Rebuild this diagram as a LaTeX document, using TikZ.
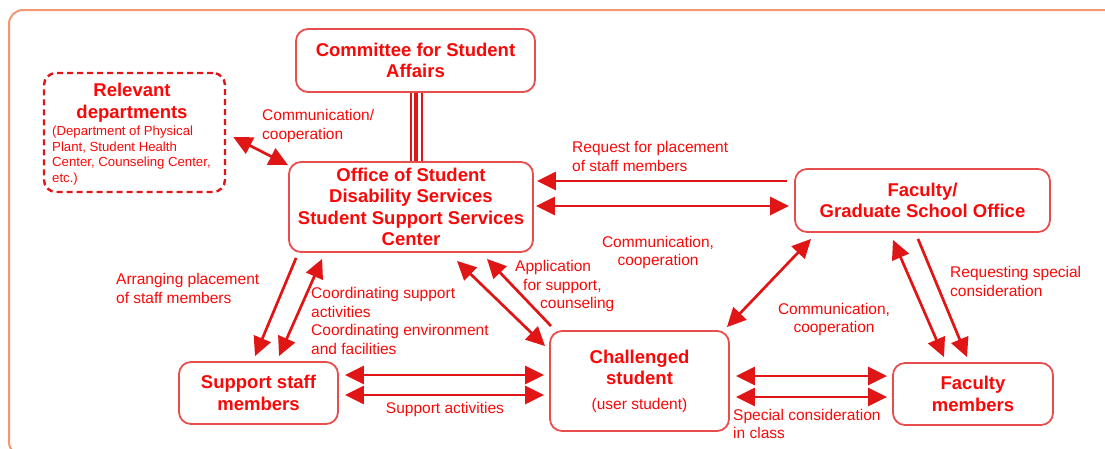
\documentclass[tikz,border=0pt]{standalone}
\usepackage{fontspec}
\setmainfont{Liberation Sans}
\usetikzlibrary{arrows.meta,calc}
\definecolor{txtred}{RGB}{250,8,8}
\definecolor{arrred}{RGB}{224,22,22}
\definecolor{boxred}{RGB}{232,78,78}
\definecolor{framec}{RGB}{242,152,112}
\begin{document}
\begin{tikzpicture}[x=1pt,y=-1pt,
  >={Triangle[length=19pt,width=18pt]},
  box/.style={draw=boxred, line width=1.8pt, rounded corners=12pt, fill=white,
    inner sep=0pt, align=center, text=txtred,
    font=\bfseries\fontsize{18.5}{21.5}\selectfont},
  dashbox/.style={draw=arrred, line width=2.4pt, dash pattern=on 6pt off 4pt,
    rounded corners=12pt, inner sep=0pt},
  title/.style={inner sep=0pt, align=center, text=txtred,
    font=\bfseries\fontsize{18.5}{21.5}\selectfont},
  lbl/.style={inner sep=0pt, text=txtred, font=\fontsize{15.5}{18.7}\selectfont},
  small/.style={inner sep=0pt, text=txtred, align=left, font=\fontsize{13.2}{15.7}\selectfont},
  conn/.style={draw=arrred, line width=2.7pt},
  triple/.style={draw=arrred, line width=2pt}]

\useasboundingbox (0,0) rectangle (1105,448);
\clip (0,0) rectangle (1105,448);

% outer frame
\draw[framec, line width=2pt, rounded corners=14pt] (9,10) rectangle (1125,456);

% boxes
\node[box, minimum width=239pt, minimum height=63pt] (comm) at (415.5,60.5)
  {Committee for Student\\Affairs};
\node[dashbox, minimum width=181pt, minimum height=119pt] (rel) at (134.5,132.5) {};
\node[title] (reltitle) at (132,102.5) {Relevant\\departments};
\node[small, anchor=west] (reldetail) at (52,155.5)
  {(Department of Physical\\Plant, Student Health\\Center, Counseling Center,\\etc.)};
\node[box, minimum width=244pt, minimum height=90pt] (off) at (411,207)
  {Office of Student\\Disability Services\\Student Support Services\\Center};
\node[box, minimum width=255pt, minimum height=63pt] (fac) at (922.5,200.5)
  {Faculty/\\Graduate School Office};
\node[box, minimum width=159pt, minimum height=62pt] (sup) at (258.5,393)
  {Support staff\\members};
\node[box, minimum width=179pt, minimum height=100pt] (stu) at (639.5,381)
  {Challenged\\student\\[3pt]{\mdseries\fontsize{15.5}{18}\selectfont(user student)}};
\node[box, minimum width=160pt, minimum height=62pt] (facm) at (973,394)
  {Faculty\\members};

% committee -- office triple line (heavier middle stroke)
\draw[triple] ($(comm.south)+(-5,0)$) -- ($(comm.south |- off.north)+(-5,0)$);
\draw[triple, line width=3.6pt] ($(comm.south)+(0.5,0)$) -- ($(comm.south |- off.north)+(0.5,0)$);
\draw[triple] ($(comm.south)+(6,0)$) -- ($(comm.south |- off.north)+(6,0)$);

% connectors
\draw[conn,<->] ($(rel.east)+(7,4.5)$) -- ($(off.north west)+(0,4)$);
\draw[conn,->] ($(fac.west)+(-7,-19.5)$) -- ($(off.east)+(3,-26)$);
\draw[conn,<->] ($(off.east)+(2,-1)$) -- ($(fac.west)+(-5,5.5)$);
\draw[conn,->] ($(off.south west)+(8,5)$) -- ($(sup.north)+(-3.5,-5)$);
\draw[conn,<->] ($(sup.north)+(20.5,-5)$) -- ($(off.south west)+(34,6)$);
\draw[conn,<->] ($(off.south)+(46,8)$) -- ($(stu.north west)+(-4,16)$);
\draw[conn,->] ($(stu.north west)+(2,-4)$) -- ($(off.south)+(76,6)$);
\draw[conn,<->] ($(sup.east)+(6,-18)$) -- ($(stu.west)+(-5,-6)$);
\draw[conn,<->] ($(sup.east)+(6,2)$) -- ($(stu.west)+(-5,14)$);
\draw[conn,<->] ($(stu.east)+(6,-5)$) -- ($(facm.west)+(-5,-18)$);
\draw[conn,<->] ($(stu.east)+(6,16)$) -- ($(facm.west)+(-5,3)$);
\draw[conn,<->] ($(stu.north east)+(-3,-3)$) -- ($(fac.south west)+(17,6)$);
\draw[conn,<->] ($(fac.south)+(-29.5,7)$) -- ($(facm.north)+(-29,-5)$);
\draw[conn,->] ($(fac.south)+(-4.5,6)$) -- ($(facm.north)+(-6,-5)$);

% labels
\node[lbl, anchor=west, align=left] (lcomm1) at (262,126) {Communication/\\cooperation};
\node[lbl, anchor=west, align=left] (lreq) at (572,156.5) {Request for placement\\of staff members};
\node[lbl, align=center] (lcomm2) at (658,252.5) {Communication,\\cooperation};
\node[lbl, anchor=west, align=left] (larr) at (116,288.5) {Arranging placement\\of staff members};
\node[lbl, anchor=west, align=left] (lcoord) at (311,321)
  {Coordinating support\\activities\\Coordinating environment\\and facilities};
\node[lbl, anchor=west, align=left] (lapp) at (515,286)
  {Application\\\hspace*{8pt}for support,\\\hspace*{25pt}counseling};
\node[lbl] (lsupact) at (445,409) {Support activities};
\node[lbl, align=center] (lcomm3) at (834,319.5) {Communication,\\cooperation};
\node[lbl, anchor=west, align=left] (lspec) at (733,424) {Special consideration\\in class};
\node[lbl, anchor=west, align=left] (lreqsp) at (950,281.5) {Requesting special\\consideration};
\end{tikzpicture}
\end{document}
